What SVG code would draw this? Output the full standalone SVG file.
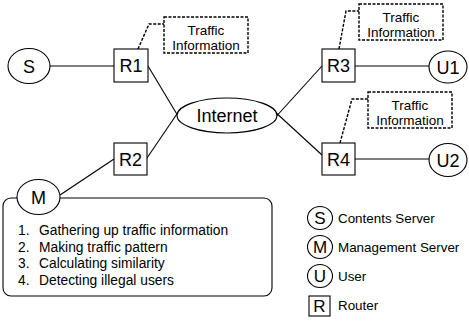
<svg xmlns="http://www.w3.org/2000/svg" width="469" height="325" viewBox="0 0 469 325">
<style>
.ln{stroke:#000;stroke-width:1.1;fill:none}
.dash{stroke:#000;stroke-width:1.4;fill:none;stroke-dasharray:3 1.5}
.nd{fill:#fff;stroke:#000;stroke-width:1.1}
.box{fill:#fff;stroke:#000;stroke-width:1.4;stroke-dasharray:3 1.5}
text{font-family:"Liberation Sans",Arial,sans-serif;fill:#000}
.big{font-size:18px;text-anchor:middle}
.mid{font-size:13.5px;text-anchor:middle}
.lst{font-size:13.8px}
.lg{font-size:13.4px}
.lgl{font-size:17px;text-anchor:middle}
</style>
<rect x="0" y="0" width="469" height="325" fill="#fff"/>
<g id="connectors">
<line class="ln" x1="50" y1="66" x2="114" y2="66"/>
<line class="ln" x1="148" y1="66" x2="181" y2="121"/>
<line class="ln" x1="147" y1="158" x2="181" y2="108"/>
<line class="ln" x1="322" y1="66" x2="273" y2="120"/>
<line class="ln" x1="322" y1="155" x2="273" y2="110"/>
<line class="ln" x1="355" y1="66" x2="429" y2="66"/>
<line class="ln" x1="355" y1="159" x2="429" y2="159"/>
<line class="ln" x1="60" y1="195" x2="114" y2="159"/>
<path class="dash" d="M138,49 L149,24 L164,24"/>
<path class="dash" d="M339,49 L346,11 L359,11"/>
<path class="dash" d="M340,143 L352,99 L368,99"/>
</g>
<g id="mgmt-box"><rect class="ln" x="3" y="198" width="269" height="98" rx="8" ry="8"/>
<text class="lst" x="18" y="235">1.</text><text class="lst" x="39" y="235">Gathering up traffic information</text>
<text class="lst" x="18" y="251.5">2.</text><text class="lst" x="39" y="251.5">Making traffic pattern</text>
<text class="lst" x="18" y="268">3.</text><text class="lst" x="39" y="268">Calculating similarity</text>
<text class="lst" x="18" y="284.5">4.</text><text class="lst" x="39" y="284.5">Detecting illegal users</text>
</g>
<g id="S"><ellipse class="nd" cx="29" cy="66" rx="21" ry="17.5"/><text class="big" x="29" y="72.5">S</text></g>
<g id="M"><ellipse class="nd" cx="38.5" cy="197" rx="21.5" ry="17.5"/><text class="big" x="38.5" y="203.5">M</text></g>
<g id="R1"><rect class="nd" x="114" y="49" width="34" height="33"/><text class="big" x="131" y="72">R1</text></g>
<g id="R2"><rect class="nd" x="114" y="143" width="33" height="32"/><text class="big" x="130.5" y="165.5">R2</text></g>
<g id="R3"><rect class="nd" x="322" y="49" width="33" height="33"/><text class="big" x="338.5" y="72">R3</text></g>
<g id="R4"><rect class="nd" x="322" y="143" width="33" height="32"/><text class="big" x="338.5" y="165.5">R4</text></g>
<g id="Internet"><ellipse class="nd" cx="227" cy="115.5" rx="50" ry="17.5"/><text class="big" x="227" y="122">Internet</text></g>
<g id="U1"><ellipse class="nd" cx="448" cy="67" rx="19" ry="16"/><text class="big" x="448" y="73.5">U1</text></g>
<g id="U2"><ellipse class="nd" cx="448" cy="160" rx="19" ry="16.5"/><text class="big" x="448" y="166.5">U2</text></g>
<g id="T1"><rect class="box" x="164" y="17" width="84" height="36"/><text class="mid" x="206" y="35">Traffic</text><text class="mid" x="206" y="50">Information</text></g>
<g id="T2"><rect class="box" x="359" y="4" width="84" height="36"/><text class="mid" x="401" y="22">Traffic</text><text class="mid" x="401" y="37">Information</text></g>
<g id="T3"><rect class="box" x="368" y="92" width="84" height="36"/><text class="mid" x="410" y="110">Traffic</text><text class="mid" x="410" y="125">Information</text></g>
<g id="legend">
<ellipse class="ln" cx="320" cy="218" rx="12.5" ry="11.5"/><text class="lgl" x="320" y="224">S</text><text class="lg" x="338" y="223">Contents Server</text>
<ellipse class="ln" cx="320" cy="247" rx="12.5" ry="11.5"/><text class="lgl" x="320" y="253">M</text><text class="lg" x="338" y="252">Management Server</text>
<ellipse class="ln" cx="320" cy="276" rx="12.5" ry="11.5"/><text class="lgl" x="320" y="282">U</text><text class="lg" x="338" y="281">User</text>
<rect class="ln" x="309" y="296" width="21" height="20"/><text class="lgl" x="319.5" y="312">R</text><text class="lg" x="338" y="310">Router</text>
</g>
</svg>
